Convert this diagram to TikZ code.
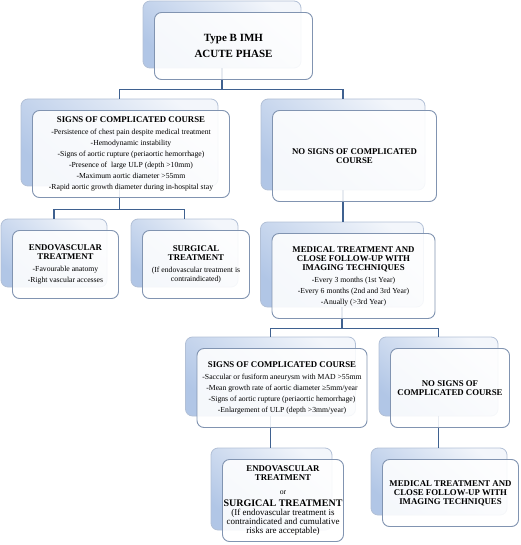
\documentclass[tikz,border=0pt]{standalone}
\usepackage{fontspec}
\setmainfont{Liberation Serif}
\usetikzlibrary{calc}

\pgfdeclarelayer{bg}
\pgfsetlayers{bg,main}

\definecolor{linkblue}{HTML}{3F6190}
\definecolor{backtop}{HTML}{F3F6FB}
\definecolor{backbot}{HTML}{B1C6E6}
\definecolor{backline}{HTML}{B2C0D6}
\definecolor{frontline}{HTML}{8194B1}

\newcommand{\hd}[1]{{\fontsize{8.8}{9}\selectfont\bfseries #1}}
\newcommand{\panel}[6][]{%
  \begin{pgfonlayer}{bg}
    \node[back, minimum width=#4, minimum height=#5] (#2b) at (#3) {};
  \end{pgfonlayer}
  \node[front, minimum width=#4, minimum height=#5, #1] (#2) at ([shift={(11.5,11.5)}]#2b.center) {#6};}

\begin{document}
\begin{tikzpicture}[x=1pt,y=-1pt,
    back/.style={draw=backline, line width=0.8pt, rounded corners=7pt, top color=backtop, bottom color=backbot, shading angle=-40, inner sep=0pt},
    front/.style={draw=frontline, line width=0.9pt, rounded corners=7pt, fill=white, fill opacity=0.88, text opacity=1, inner sep=0pt, align=center, font=\fontsize{7.7}{11}\selectfont},
    link/.style={draw=linkblue, line width=1.6pt}]
  \useasboundingbox (0,0) rectangle (520,545);

  \panel[font=\fontsize{11}{16}\selectfont\bfseries]{top}{222,34.5}{158}{67}{Type B IMH\\ACUTE PHASE}
  \panel{sig1}{119.5,142.5}{197}{87}{\hd{SIGNS OF COMPLICATED COURSE}\\[1pt]
    -Persistence of chest pain despite medical treatment\\
    -Hemodynamic instability\\
    -Signs of aortic rupture (periaortic hemorrhage)\\
    -Presence of \ large ULP (depth >10mm)\\
    -Maximum aortic diameter >55mm\\
    -Rapid aortic growth diameter during in-hospital stay}
  \panel{nosig1}{343,144.5}{164}{91}{\hd{NO SIGNS OF COMPLICATED}\\[-2pt]\hd{COURSE}}
  \panel{endo1}{54,253}{106}{68}{\hd{ENDOVASCULAR}\\[-2pt]\hd{TREATMENT}\\[1pt]
    -Favourable anatomy\\
    -Right vascular accesses}
  \panel{surg1}{184.5,253}{107}{68}{\hd{SURGICAL}\\[-2pt]\hd{TREATMENT}\\[1pt]
    (If endovascular treatment is\\[-2.5pt]
    contraindicated)}
  \panel{med1}{342,264.5}{163}{85}{\hd{MEDICAL TREATMENT AND}\\[-2pt]\hd{CLOSE FOLLOW-UP WITH}\\[-2pt]\hd{IMAGING TECHNIQUES}\\[1pt]
    -Every 3 months (1st Year)\\
    -Every 6 months (2nd and 3rd Year)\\
    -Anually (>3rd Year)}
  \panel{sig2}{270.5,376.5}{170}{79}{\hd{SIGNS OF COMPLICATED COURSE}\\[1pt]
    -Saccular or fusiform aneurysm with MAD >55mm\\
    -Mean growth rate of aortic diameter ≥5mm/year\\
    -Signs of aortic rupture (periaortic hemorrhage)\\
    -Enlargement of ULP (depth >3mm/year)}
  \panel{nosig2}{438.5,376.5}{119}{79}{\hd{NO SIGNS OF}\\[-2pt]\hd{COMPLICATED COURSE}}
  \panel{endo2}{271.5,489}{121}{82}{\hd{ENDOVASCULAR}\\[-2pt]\hd{TREATMENT}\\[3pt]
    or\\[1pt]
    {\fontsize{10}{10}\selectfont\bfseries SURGICAL TREATMENT}\\[-2pt]
    {\fontsize{9}{9}\selectfont (If endovascular treatment is}\\[-2pt]
    {\fontsize{9}{9}\selectfont contraindicated and cumulative}\\[-2.5pt]
    {\fontsize{9}{9}\selectfont risks are acceptable)}}
  \panel{med2}{439,481.5}{136}{67}{\hd{MEDICAL TREATMENT AND}\\[-2pt]\hd{CLOSE FOLLOW-UP WITH}\\[-2pt]\hd{IMAGING TECHNIQUES}}

  % connectors between the back boxes
  \begin{pgfonlayer}{bg}
    \draw[link] (topb.south) |- ([yshift=9pt]sig1b.north) -- (sig1b.north);
    \draw[link] (topb.south) |- ([yshift=9pt]nosig1b.north) -- (nosig1b.north);
    \draw[link] (sig1b.south) |- ([yshift=9pt]endo1b.north) -- (endo1b.north);
    \draw[link] (sig1b.south) |- ([yshift=9pt]surg1b.north) -- (surg1b.north);
    \draw[link] (nosig1b.south) -- (nosig1b.south |- med1b.north);
    \draw[link] (med1b.south) |- ([yshift=8pt]sig2b.north) -- (sig2b.north);
    \draw[link] (med1b.south) |- ([yshift=8pt]nosig2b.north) -- (nosig2b.north);
    \draw[link] (sig2b.south) -- (sig2b.south |- endo2b.north);
    \draw[link] (nosig2b.south) -- (nosig2b.south |- med2b.north);
  \end{pgfonlayer}
\end{tikzpicture}
\end{document}
